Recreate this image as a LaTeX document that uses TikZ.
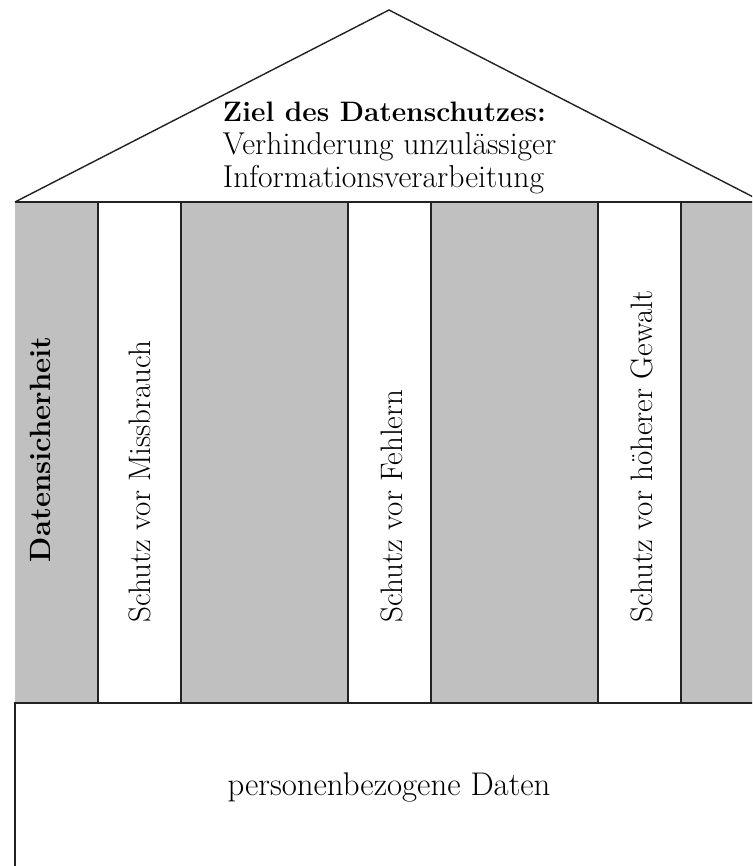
\documentclass[tikz,border=0pt]{standalone}
\usepackage{fontspec}
\usetikzlibrary{positioning}
\definecolor{pillargrey}{RGB}{192,192,192}
\definecolor{inkline}{RGB}{34,34,34}
\tikzset{
  pillartext/.style={rotate=90, anchor=base west, inner sep=0pt, font=\fontsize{26.5}{28}\selectfont},
  rooftext/.style={anchor=north west, align=left, inner sep=0pt, font=\fontsize{27}{28}\selectfont},
  basetext/.style={anchor=base, inner sep=0pt, font=\fontsize{28}{28}\selectfont}
}

\begin{document}
\begin{tikzpicture}[x=0.03cm, y=-0.03cm, line width=1.6pt, draw=inkline]
			\useasboundingbox (0,0) rectangle (752,866);
			\clip (0,0) rectangle (752,866);
			% pillars
			\fill[pillargrey] (15,202) rectangle (800,703);
			\foreach \x in {98,348,598}
				\fill[white] (\x,202) rectangle (\x+83,703);
			\foreach \x in {98,181,348,431,598,681}
				\draw (\x,202) -- (\x,703);
			% roof
			\draw[line width=1.2pt] (15,202) -- (389,10) -- (763,202);
			\draw (15,202) -- (800,202);
			% base
			\draw (15,900) -- (15,703) -- (800,703);
			\node[rooftext] (goal) at (222,101) {{\fontsize{24}{28}\selectfont\textbf{Ziel des Datenschutzes:}}\\Verhinderung unzulässiger\\Informationsverarbeitung};
			\node[pillartext, font=\fontsize{25}{28}\selectfont] (security) at (50,563) {\textbf{Datensicherheit}};
			\node[pillartext] (misuse) at (150,623) {Schutz vor Missbrauch};
			\node[pillartext] (errors) at (402,623) {Schutz vor Fehlern};
			\node[pillartext] (force) at (652,623) {Schutz vor höherer Gewalt};
			\node[basetext] (data) at (389,795) {personenbezogene Daten};
			%\draw (goal) -- (data);
		\end{tikzpicture}
\end{document}
